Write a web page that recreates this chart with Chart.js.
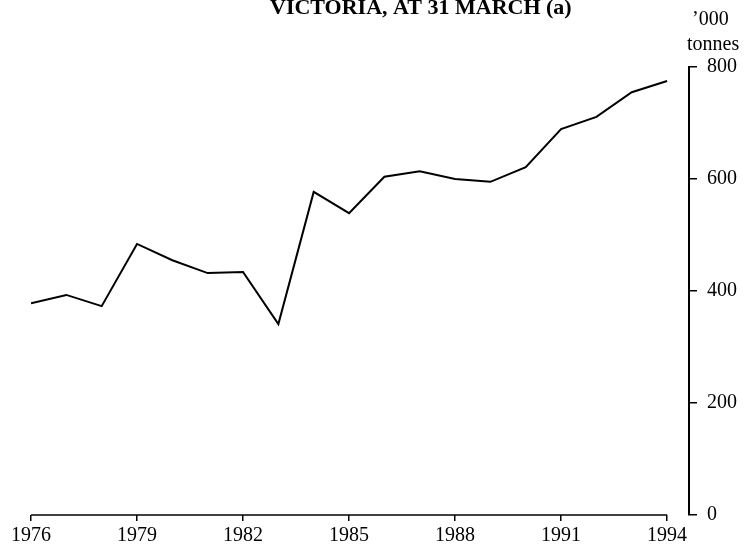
<!DOCTYPE html>
<html>
<head>
<meta charset="utf-8">
<script src="https://cdn.jsdelivr.net/npm/chart.js@4.4.1/dist/chart.umd.min.js"></script>
<style>
    html, body { margin: 0; padding: 0; background: #fff; }
    canvas { display: block; }
</style>
</head>
<body>
<canvas id="stock-chart" width="750" height="551"></canvas>
<script>
// Values ('000 tonnes, at 31 March)
const years = [1976, 1977, 1978, 1979, 1980, 1981, 1982, 1983, 1984, 1985,
    1986, 1987, 1988, 1989, 1990, 1991, 1992, 1993, 1994];
const tonnes = [378, 393, 373, 484, 455, 432, 434, 341, 577, 539,
    604, 614, 600, 595, 621, 689, 711, 755, 775];
const yearTicks = [1976, 1979, 1982, 1985, 1988, 1991, 1994];
const tonneTicks = [0, 200, 400, 600, 800];

const titleText = 'VICTORIA, AT 31 MARCH (a)';
const unitLines = ['\u2019000', 'tonnes'];

(function () {
    const serif = '"Liberation Serif", "DejaVu Serif", serif';

    // title, unit label and the x axis line (only from first to last year)
    const extras = {
        id: 'extras',
        afterDraw(chart) {
            const ctx = chart.ctx;
            const x = chart.scales.x;
            const area = chart.chartArea;
            ctx.save();
            ctx.strokeStyle = '#000';
            ctx.lineWidth = 1.5;
            ctx.beginPath();
            ctx.moveTo(x.getPixelForValue(yearTicks[0]), area.bottom);
            ctx.lineTo(x.getPixelForValue(yearTicks[yearTicks.length - 1]), area.bottom);
            ctx.stroke();

            ctx.fillStyle = '#000';
            ctx.textBaseline = 'alphabetic';
            ctx.textAlign = 'left';
            ctx.font = 'bold 22px ' + serif;
            ctx.fillText(titleText, 270, 14);

            ctx.font = '20px ' + serif;
            ctx.fillText(unitLines[0], 692, 25);
            ctx.fillText(unitLines[1], 687, 50);
            ctx.restore();
        }
    };

    new Chart(document.getElementById('stock-chart'), {
        type: 'line',
        data: {
            datasets: [{
                data: years.map((yr, i) => ({ x: yr, y: tonnes[i] })),
                borderColor: '#000',
                borderWidth: 2,
                tension: 0,
                fill: false,
                pointRadius: 0
            }]
        },
        options: {
            responsive: false,
            animation: false,
            devicePixelRatio: 1,
            layout: { padding: { left: 31, top: 67, right: 0, bottom: 0 } },
            plugins: {
                legend: { display: false },
                tooltip: { enabled: false }
            },
            scales: {
                x: {
                    type: 'linear',
                    min: 1976,
                    max: 1994.62,
                    afterBuildTicks(scale) {
                        scale.ticks = yearTicks.map(v => ({ value: v }));
                    },
                    afterFit(scale) {
                        scale.height = 36;
                    },
                    border: { display: false },
                    grid: {
                        drawOnChartArea: false,
                        drawTicks: true,
                        tickLength: 6,
                        color: '#000',
                        lineWidth: 1.5
                    },
                    ticks: {
                        autoSkip: false,
                        maxRotation: 0,
                        padding: 3,
                        color: '#000',
                        font: { family: serif, size: 20 },
                        callback: v => String(v)
                    }
                },
                y: {
                    position: 'right',
                    min: 0,
                    max: 800,
                    afterBuildTicks(scale) {
                        scale.ticks = tonneTicks.map(v => ({ value: v }));
                    },
                    afterFit(scale) {
                        scale.width = 61;
                    },
                    border: { display: true, color: '#000', width: 2 },
                    grid: {
                        drawOnChartArea: false,
                        drawTicks: true,
                        tickLength: 8,
                        color: '#000',
                        lineWidth: 1.5
                    },
                    ticks: {
                        padding: 10,
                        color: '#000',
                        font: { family: serif, size: 20 }
                    }
                }
            }
        },
        plugins: [extras]
    });
})();
</script>
</body>
</html>
